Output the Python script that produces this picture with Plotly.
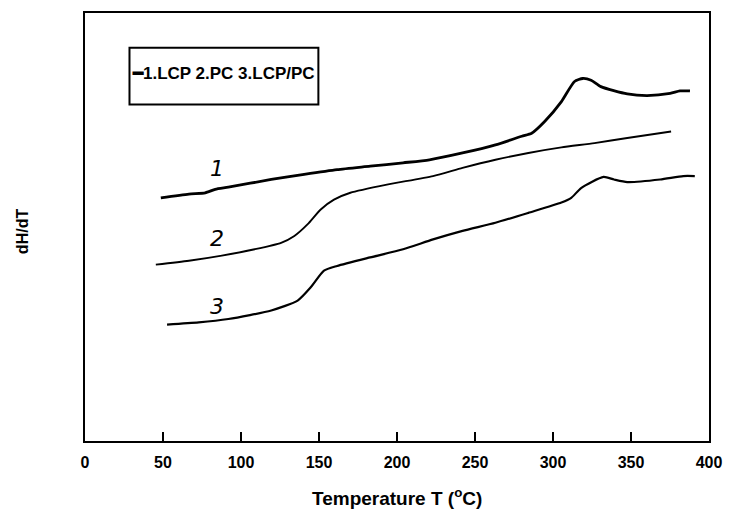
import plotly.graph_objects as go

# Temperature (°C) and dH/dT (arbitrary units)
t_lcp = [48.6, 66.6, 77.1, 83.5, 91.9, 119.4, 140.5, 161.6, 182.8, 203.9, 220.8, 242.0,
         263.1, 280.0, 286.3, 294.8, 305.4, 313.8, 319.1, 324.4, 330.7, 347.6, 360.3,
         375.1, 381.4, 387.8]
h_lcp = [5.68, 5.77, 5.80, 5.88, 5.93, 6.11, 6.23, 6.34, 6.42, 6.50, 6.57, 6.73,
         6.92, 7.12, 7.19, 7.47, 7.93, 8.40, 8.47, 8.43, 8.28, 8.11, 8.07,
         8.12, 8.18, 8.18]

t_pc = [45.4, 66.6, 87.7, 108.8, 125.7, 134.2, 142.6, 151.1, 159.6, 170.1, 193.5, 223.1,
        242.0, 263.1, 284.2, 305.4, 326.6, 347.6, 375.7]
h_pc = [4.12, 4.21, 4.33, 4.48, 4.63, 4.79, 5.06, 5.41, 5.64, 5.80, 5.99, 6.19,
        6.38, 6.57, 6.73, 6.86, 6.96, 7.08, 7.23]

t_blend = [52.6, 72.9, 91.9, 119.4, 136.3, 144.7, 153.2, 161.6, 182.8, 203.9, 223.1, 242.0,
           263.1, 284.2, 305.4, 311.7, 318.0, 332.4, 339.1, 347.6, 368.7, 383.5, 390.9]
h_blend = [2.72, 2.77, 2.85, 3.05, 3.28, 3.59, 3.98, 4.09, 4.29, 4.48, 4.71, 4.91,
           5.10, 5.33, 5.57, 5.68, 5.91, 6.17, 6.11, 6.05, 6.11, 6.19, 6.19]

curve_labels = ["1", "2", "3"]
label_t = [84.9, 84.3, 84.3]
label_h = [6.37, 4.72, 3.14]

x_ticks = [0, 50, 100, 150, 200, 250, 300, 350, 400]
legend_text = "1.LCP 2.PC 3.LCP/PC"
x_title = "Temperature T (<sup>o</sup>C)"
y_title = "dH/dT"

fig = go.Figure()
for t, h, w in [(t_lcp, h_lcp, 2.8), (t_pc, h_pc, 1.9), (t_blend, h_blend, 2.2)]:
    fig.add_trace(go.Scatter(x=t, y=h, mode="lines",
                             line=dict(color="black", width=w, shape="spline", smoothing=0.6),
                             showlegend=False, hoverinfo="skip"))

for lab, tx, hy in zip(curve_labels, label_t, label_h):
    fig.add_annotation(x=tx, y=hy, text="<i>" + lab + "</i>", showarrow=False,
                       font=dict(family="DejaVu Sans", size=22, color="black"))

# legend box
fig.add_shape(type="rect", xref="paper", yref="paper", x0=0.0713, x1=0.374, y0=0.786, y1=0.9186,
              line=dict(color="black", width=2), fillcolor="white", layer="above")
fig.add_annotation(xref="paper", yref="paper", x=0.0725, y=0.858, xanchor="left", yanchor="middle",
                   text="<b>━" + legend_text + "</b>", showarrow=False, align="left",
                   font=dict(family="Liberation Sans Narrow, Liberation Sans", size=17, color="black"))

fig.add_annotation(xref="paper", yref="paper", x=-0.118, y=0.49, text="<b>" + y_title + "</b>",
                   textangle=-90, showarrow=False,
                   font=dict(family="Liberation Sans", size=16, color="black"))
fig.add_annotation(xref="paper", yref="paper", x=0.5, y=-0.130, yanchor="middle",
                   text="<b>" + x_title + "</b>", showarrow=False,
                   font=dict(family="Liberation Sans", size=19, color="black"))

fig.update_xaxes(range=[0, 400], tickvals=x_ticks, ticks="inside", ticklen=9, tickwidth=1.5,
                 tickcolor="black", ticklabelstandoff=6,
                 showline=True, linecolor="black", linewidth=2, mirror=True, showgrid=False,
                 zeroline=False,
                 tickfont=dict(family="Liberation Sans", size=16, color="black", weight="bold"))
fig.update_yaxes(range=[0, 10], showticklabels=False, ticks="", showline=True, linecolor="black",
                 linewidth=2, mirror=True, showgrid=False, zeroline=False)

fig.update_layout(width=733, height=509, margin=dict(l=85, r=16, t=11, b=68),
                  plot_bgcolor="white", paper_bgcolor="white")

fig.write_html("out.html")
